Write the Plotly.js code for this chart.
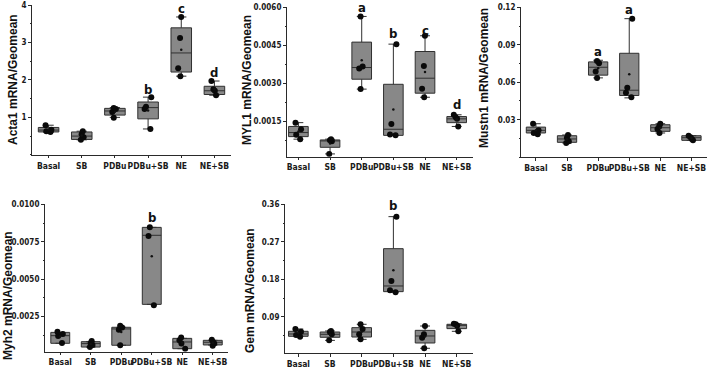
<!DOCTYPE html>
<html>
<head>
<meta charset="utf-8">
<script src="https://cdn.plot.ly/plotly-3.0.1.min.js"></script>
<style>html,body{margin:0;padding:0;background:#fff;}#chart{width:709px;height:368px;}</style>
</head>
<body>
<div id="chart"></div>
<script>
const groups = ['Basal', 'SB', 'PDBu', 'PDBu+SB', 'NE', 'NE+SB'];

// ---- Acta1 ----
const acta1Points = [[0.79, 0.67, 0.63, 0.61], [0.63, 0.55, 0.47, 0.40], [1.25, 1.22, 1.14, 0.99],
                     [1.54, 1.28, 1.22, 0.69], [3.68, 3.12, 2.31, 2.10], [1.97, 1.75, 1.71, 1.59]];
const acta1Q1 = [0.61, 0.41, 1.06, 0.96, 2.21, 1.61];
const acta1Median = [0.66, 0.50, 1.17, 1.26, 2.72, 1.71];
const acta1Q3 = [0.73, 0.61, 1.24, 1.41, 3.39, 1.83];
const acta1Low = [0.60, 0.40, 1.00, 0.69, 2.10, 1.59];
const acta1High = [0.79, 0.63, 1.26, 1.54, 3.68, 1.97];
const acta1Letters = ['', '', '', 'b', 'c', 'd'];
const acta1LetterY = [0, 0, 0, 1.75, 3.91, 2.2];
const acta1Ticks = [1, 2, 3, 4];
const acta1TickText = ['1', '2', '3', '4'];

// ---- MYL1 ----
const myl1Points = [[0.00146, 0.00120, 0.00098, 0.00081], [0.00081, 0.00077, 0.00073, 0.00023],
                    [0.00564, 0.00367, 0.00359, 0.00278], [0.00455, 0.00141, 0.00099, 0.00096],
                    [0.00488, 0.00369, 0.00279, 0.00246], [0.00177, 0.00167, 0.00161, 0.00131]];
const myl1Q1 = [0.00091, 0.00049, 0.00317, 0.00096, 0.00262, 0.00146];
const myl1Median = [0.00107, 0.00075, 0.00363, 0.00120, 0.00321, 0.00161];
const myl1Q3 = [0.00131, 0.00078, 0.00463, 0.00297, 0.00426, 0.00170];
const myl1Low = [0.00081, 0.00023, 0.00278, 0.00096, 0.00246, 0.00131];
const myl1High = [0.00146, 0.00081, 0.00564, 0.00455, 0.00488, 0.00177];
const myl1Letters = ['', '', 'a', 'b', 'c', 'd'];
const myl1LetterY = [0, 0, 0.00598, 0.00496, 0.0051, 0.00217];
const myl1Ticks = [0.0015, 0.0030, 0.0045, 0.0060];
const myl1TickText = ['0.0015', '0.0030', '0.0045', '0.0060'];

// ---- Mustn1 ----
const mustn1Points = [[0.0268, 0.0215, 0.0194, 0.0183], [0.0178, 0.0156, 0.0127, 0.0114],
                      [0.0771, 0.0753, 0.0686, 0.0635], [0.1109, 0.0555, 0.0515, 0.0480],
                      [0.0268, 0.0247, 0.0225, 0.0194], [0.0172, 0.0159, 0.0146, 0.0135]];
const mustn1Q1 = [0.0194, 0.0119, 0.0657, 0.0494, 0.0207, 0.0135];
const mustn1Median = [0.0215, 0.0146, 0.0720, 0.0536, 0.0236, 0.0156];
const mustn1Q3 = [0.0241, 0.0172, 0.0763, 0.0832, 0.0260, 0.0172];
const mustn1Low = [0.0183, 0.0114, 0.0635, 0.0475, 0.0194, 0.0135];
const mustn1High = [0.0268, 0.0178, 0.0776, 0.1109, 0.0268, 0.0172];
const mustn1Letters = ['', '', 'a', 'a', '', ''];
const mustn1LetterY = [0, 0, 0.0843, 0.1186, 0, 0];
const mustn1Ticks = [0.03, 0.06, 0.09, 0.12];
const mustn1TickText = ['0.03', '0.06', '0.09', '0.12'];

// ---- Myh2 ----
const myh2Points = [[0.00150, 0.00134, 0.00121, 0.00074], [0.00087, 0.00074, 0.00061, 0.00047],
                    [0.00190, 0.00177, 0.00163, 0.00059], [0.00846, 0.00789, 0.00326],
                    [0.00110, 0.00092, 0.00070, 0.00036], [0.00096, 0.00081, 0.00070, 0.00056]];
const myh2Q1 = [0.00072, 0.00047, 0.00059, 0.00332, 0.00036, 0.00061];
const myh2Median = [0.00123, 0.00070, 0.00168, 0.00793, 0.00081, 0.00079];
const myh2Q3 = [0.00145, 0.00083, 0.00179, 0.00846, 0.00105, 0.00092];
const myh2Low = [0.00072, 0.00047, 0.00059, 0.00332, 0.00036, 0.00061];
const myh2High = [0.00145, 0.00083, 0.00179, 0.00846, 0.00105, 0.00092];
const myh2Letters = ['', '', '', 'b', '', ''];
const myh2LetterY = [0, 0, 0, 0.0091, 0, 0];
const myh2Ticks = [0.0025, 0.0050, 0.0075, 0.0100];
const myh2TickText = ['0.0025', '0.0050', '0.0075', '0.0100'];

// ---- Gem ----
const gemPoints = [[0.0613, 0.0549, 0.0469, 0.0429], [0.0565, 0.0540, 0.0485, 0.0340],
                   [0.0725, 0.0613, 0.0485, 0.0365], [0.330, 0.176, 0.154, 0.149],
                   [0.0684, 0.0485, 0.0405, 0.0150], [0.0740, 0.0725, 0.0693, 0.0557]];
const gemQ1 = [0.0437, 0.0413, 0.0420, 0.1507, 0.0277, 0.0621];
const gemMedian = [0.0493, 0.0485, 0.0540, 0.1643, 0.0445, 0.0700];
const gemQ3 = [0.0557, 0.0540, 0.0645, 0.2537, 0.0580, 0.0725];
const gemLow = [0.0429, 0.0340, 0.0365, 0.1490, 0.0150, 0.0557];
const gemHigh = [0.0613, 0.0565, 0.0725, 0.3304, 0.0684, 0.0740];
const gemLetters = ['', '', '', 'b', '', ''];
const gemLetterY = [0, 0, 0, 0.356, 0, 0];
const gemTicks = [0.09, 0.18, 0.27, 0.36];
const gemTickText = ['0.09', '0.18', '0.27', '0.36'];

const yTitles = ['Acta1 mRNA/Geomean', 'MYL1 mRNA/Geomean', 'Mustn1 mRNA/Geomean', 'Myh2 mRNA/Geomean', 'Gem mRNA/Geomean'];

// ---------------- layout / styling ----------------
const W = 709, H = 368;
const NARROW = '"Liberation Sans Narrow", "Arial Narrow", "DejaVu Sans Condensed", Arial, sans-serif';
const SANS = '"Liberation Sans", Arial, sans-serif';
const AX = '#2a2a2a';

const panels = [
  {pts: acta1Points, q1: acta1Q1, med: acta1Median, q3: acta1Q3, lo: acta1Low, hi: acta1High,
   letters: acta1Letters, ly: acta1LetterY, ticks: acta1Ticks, ttext: acta1TickText,
   px: [32, 231], py: [5, 154.8], xr: [-0.5, 5.5], yr: [0, 4], minor: 0.5, tx: 13, ty: 80},
  {pts: myl1Points, q1: myl1Q1, med: myl1Median, q3: myl1Q3, lo: myl1Low, hi: myl1High,
   letters: myl1Letters, ly: myl1LetterY, ticks: myl1Ticks, ttext: myl1TickText,
   px: [287, 472.5], py: [7.3, 156.7], xr: [-0.36, 5.5], yr: [0.00012, 0.006], minor: 0.00075, tx: 247, ty: 80},
  {pts: mustn1Points, q1: mustn1Q1, med: mustn1Median, q3: mustn1Q3, lo: mustn1Low, hi: mustn1High,
   letters: mustn1Letters, ly: mustn1LetterY, ticks: mustn1Ticks, ttext: mustn1TickText,
   px: [521, 707], py: [7.3, 157.2], xr: [-0.48, 5.5], yr: [0, 0.12], minor: 0.015, tx: 484, ty: 78},
  {pts: myh2Points, q1: myh2Q1, med: myh2Median, q3: myh2Q3, lo: myh2Low, hi: myh2High,
   letters: myh2Letters, ly: myh2LetterY, ticks: myh2Ticks, ttext: myh2TickText,
   px: [45, 228], py: [204.3, 351.7], xr: [-0.5, 5.5], yr: [0.00016, 0.01], minor: 0.00125, tx: 8, ty: 296},
  {pts: gemPoints, q1: gemQ1, med: gemMedian, q3: gemQ3, lo: gemLow, hi: gemHigh,
   letters: gemLetters, ly: gemLetterY, ticks: gemTicks, ttext: gemTickText,
   px: [285, 472.6], py: [204.3, 353.3], xr: [-0.42, 5.5], yr: [0.003, 0.36], minor: 0.045, tx: 250, ty: 291}
];

const data = [];
const layout = {
  width: W, height: H, margin: {l: 0, r: 0, t: 0, b: 0},
  paper_bgcolor: '#fff', plot_bgcolor: 'rgba(0,0,0,0)', showlegend: false,
  boxmode: 'overlay', annotations: []
};

panels.forEach((p, i) => {
  const k = i + 1;
  const xa = 'x' + (k === 1 ? '' : k), ya = 'y' + (k === 1 ? '' : k);
  const xKey = 'xaxis' + (k === 1 ? '' : k), yKey = 'yaxis' + (k === 1 ? '' : k);

  data.push({
    type: 'box', xaxis: xa, yaxis: ya, x: groups,
    q1: p.q1, median: p.med, q3: p.q3, lowerfence: p.lo, upperfence: p.hi,
    boxpoints: false, width: 0.62, whiskerwidth: 0.5,
    fillcolor: '#888888', line: {color: '#303030', width: 1}, hoverinfo: 'skip'
  });
  const xs = [], ys = [];
  p.pts.forEach((arr, g) => arr.forEach(v => { xs.push(groups[g]); ys.push(v); }));
  data.push({
    type: 'box', xaxis: xa, yaxis: ya, x: xs, y: ys,
    boxpoints: 'all', jitter: 0.35, pointpos: 0, width: 0.62,
    fillcolor: 'rgba(0,0,0,0)', line: {width: 0, color: 'rgba(0,0,0,0)'},
    marker: {color: '#0a0a0a', size: 6}, hoverinfo: 'skip'
  });
  const means = p.pts.map(a => a.reduce((s, v) => s + v, 0) / a.length);
  data.push({
    type: 'scatter', mode: 'markers', xaxis: xa, yaxis: ya, x: groups, y: means,
    marker: {color: '#111', size: 2.5}, hoverinfo: 'skip'
  });

  layout[xKey] = {
    domain: [p.px[0] / W, p.px[1] / W], anchor: ya, type: 'category',
    categoryorder: 'array', categoryarray: groups, range: p.xr,
    showline: true, linecolor: AX, linewidth: 1, showgrid: false, zeroline: false,
    ticks: 'outside', ticklen: 2.5, tickcolor: AX, tickwidth: 1, tickangle: 0,
    tickfont: {family: NARROW, size: 8.5, color: '#1a1a1a', weight: 'bold'},
    fixedrange: true
  };
  layout[yKey] = {
    domain: [1 - p.py[1] / H, 1 - p.py[0] / H], anchor: xa, range: p.yr,
    showline: true, linecolor: AX, linewidth: 1, showgrid: false, zeroline: false,
    tickmode: 'array', tickvals: p.ticks, ticktext: p.ttext,
    ticks: 'outside', ticklen: 3, tickcolor: AX, tickwidth: 1,
    minor: {dtick: p.minor, tick0: 0, ticks: 'outside', ticklen: 1.5, tickcolor: AX, showgrid: false},
    tickfont: {family: NARROW, size: 8, color: '#1a1a1a', weight: 'bold'},
    fixedrange: true
  };

  p.letters.forEach((t, g) => {
    if (!t) return;
    layout.annotations.push({
      xref: xa, yref: ya, x: groups[g], y: p.ly[g], text: t, showarrow: false,
      xanchor: 'center', yanchor: 'middle',
      font: {family: NARROW, size: 13, color: '#111', weight: 'bold'}
    });
  });

  layout.annotations.push({
    xref: 'paper', yref: 'paper', x: p.tx / W, y: 1 - p.ty / H,
    text: yTitles[i], textangle: -90, showarrow: false,
    xanchor: 'center', yanchor: 'middle',
    font: {family: SANS, size: 12, color: '#111', weight: 'bold'}
  });
});

Plotly.newPlot('chart', data, layout, {staticPlot: true, displayModeBar: false});
</script>
</body>
</html>
